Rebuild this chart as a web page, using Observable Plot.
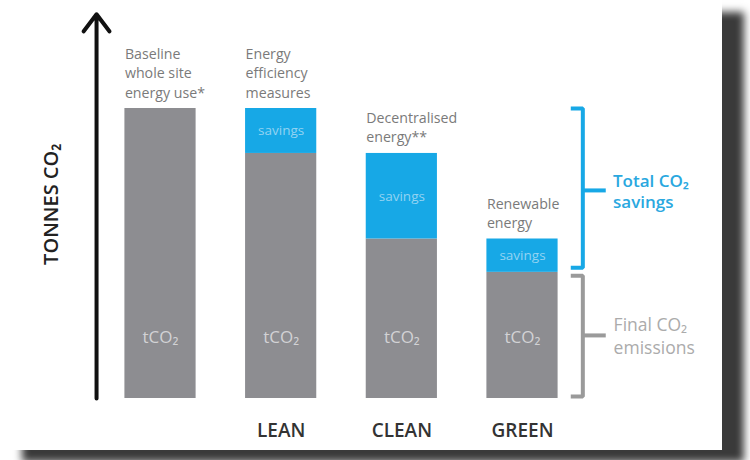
<!DOCTYPE html>
<html><head><meta charset="utf-8">
<script src="https://cdn.jsdelivr.net/npm/d3@7"></script>
<script src="https://cdn.jsdelivr.net/npm/@observablehq/plot@0.6"></script>
<style>
body{margin:0;background:#fff;}
#wrap{position:relative;width:750px;height:460px;overflow:hidden;}
#card{position:absolute;left:0;top:0;width:722px;height:450px;background:#fff;box-shadow:22px 12px 8px 0 #3a3a3a;}
#chart{position:absolute;left:0;top:0;}
</style></head><body>
<div id="wrap"><div id="card"></div><div id="chart"></div></div>
<script>
// ---- data ----
const steps = ["Baseline", "LEAN", "CLEAN", "GREEN"];
const phaseLabels = ["", "LEAN", "CLEAN", "GREEN"];
const descriptions = ["Baseline\nwhole site\nenergy use*", "Energy\nefficiency\nmeasures", "Decentralised\nenergy**", "Renewable\nenergy"];
const emissions = [100, 84.5, 55, 43.5];
const savings = [0, 15.5, 29.5, 11.5];
const barLabel = "tCO₂";
const savingLabel = "savings";
const yAxisTitle = "TONNES CO₂";
const bracketLabels = ["Total CO₂\nsavings", "Final CO₂\nemissions"];

// ---- styles ----
const GRAY = "#8d8d91", BLUE = "#17a8e6";
const FONT = "'Open Sans', sans-serif";
const half = 0.295;

const rows = steps.map((s, i) => ({i, step: s, emission: emissions[i], saving: savings[i], total: emissions[i] + savings[i], desc: descriptions[i]}));
const segs = rows.flatMap(d => [
  {i: d.i, y1: 0, y2: d.emission, kind: "emission"},
  ...(d.saving > 0 ? [{i: d.i, y1: d.emission, y2: d.total, kind: "saving"}] : [])
]);

const topVal = rows[0].total;
const finalVal = emissions[emissions.length - 1];
const bx = steps.length - 0.5, arm = 0.1, tick = 0.19;
const midSave = (topVal + finalVal) / 2, midFinal = finalVal / 2;
const bracketSave = [[bx - arm, topVal], [bx, topVal], [bx, finalVal + 1.6], [bx - arm, finalVal + 1.6]].map(p => ({x: p[0], y: p[1], g: "a"}))
  .concat([[bx, midSave], [bx + tick, midSave]].map(p => ({x: p[0], y: p[1], g: "b"})));
const bracketFinal = [[bx - arm, finalVal - 1.2], [bx, finalVal - 1.2], [bx, 0.7], [bx - arm, 0.7]].map(p => ({x: p[0], y: p[1], g: "a"}))
  .concat([[bx, midFinal], [bx + tick, midFinal]].map(p => ({x: p[0], y: p[1], g: "b"})));

const chart = Plot.plot({
  width: 750, height: 460,
  marginBottom: 62,
  style: {background: "transparent", fontFamily: FONT},
  x: {domain: [-0.5, 3.5], range: [99.67, 582.33]},
  y: {domain: [0, 100], range: [398, 108], axis: null},
  marks: [
    Plot.rectY(segs, {x1: d => d.i - half, x2: d => d.i + half, y1: "y1", y2: "y2", fill: d => d.kind === "saving" ? BLUE : GRAY}),
    Plot.text(segs.filter(d => d.kind === "saving"), {x: "i", y: d => (d.y1 + d.y2) / 2, text: () => savingLabel, fill: "#93d3f2", fontSize: 13.5}),
    Plot.text(rows, {x: "i", y: 21, text: () => barLabel, fill: "#d2d2d5", fontSize: 17}),
    Plot.text(rows, {x: d => d.i - half, y: "total", text: "desc", textAnchor: "start", lineAnchor: "bottom", dy: -11, lineHeight: 1.36, fontSize: 14.2, fill: "#7a7a7a"}),
    Plot.arrow([0], {x1: -0.53, x2: -0.53, y1: 0, y2: 132.5, stroke: "#111", strokeWidth: 4, headAngle: 74, headLength: 8}),
    Plot.text([yAxisTitle], {x: -0.9, y: 67, text: d => d, rotate: -90, fontSize: 20, fontWeight: 600, fill: "#222"}),
    Plot.line(bracketSave, {x: "x", y: "y", z: "g", stroke: BLUE, strokeWidth: 4, strokeLinejoin: "miter", strokeLinecap: "butt"}),
    Plot.line(bracketFinal, {x: "x", y: "y", z: "g", stroke: "#9a9a9a", strokeWidth: 4, strokeLinejoin: "miter", strokeLinecap: "butt"}),
    Plot.text([bracketLabels[0]], {x: bx + 0.25, y: midSave, text: d => d, textAnchor: "start", lineHeight: 1.25, fontSize: 17, fontWeight: 600, fill: "#2aa8df"}),
    Plot.text([bracketLabels[1]], {x: bx + 0.255, y: midFinal, text: d => d, textAnchor: "start", lineHeight: 1.3, fontSize: 17.5, fill: "#ababab"}),
    Plot.axisX({ticks: [1, 2, 3], tickFormat: i => phaseLabels[i], tickSize: 0, tickPadding: 25, fontSize: 19, fontWeight: 600, fill: "#333", label: null})
  ]
});
document.getElementById("chart").appendChild(chart);
</script>
</body></html>
